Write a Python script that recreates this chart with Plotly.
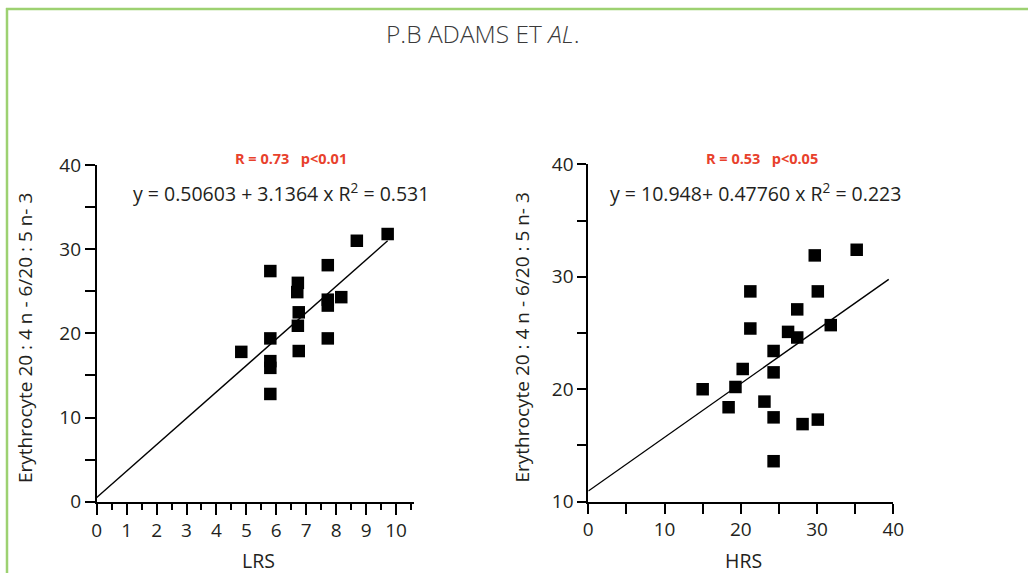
import plotly.graph_objects as go

# ---- data ----
lrs_x = [4.83, 5.8, 5.8, 5.8, 5.8, 5.8, 6.72, 6.7, 6.75, 6.72, 6.75, 7.72, 7.72, 7.72, 7.72, 8.17, 8.69, 9.72]
lrs_y = [17.8, 27.4, 19.4, 16.7, 15.9, 12.8, 26.0, 24.9, 22.5, 20.9, 17.9, 28.1, 24.0, 23.3, 19.4, 24.3, 31.0, 31.8]

hrs_x = [15.0, 18.4, 19.3, 20.25, 21.25, 21.25, 23.1, 24.3, 24.3, 24.3, 24.3, 26.2, 27.4, 27.4, 28.1, 29.7, 30.1, 30.1, 31.8, 35.2]
hrs_y = [20.0, 18.4, 20.2, 21.8, 28.7, 25.4, 18.9, 23.4, 21.5, 17.5, 13.6, 25.1, 27.1, 24.6, 16.9, 31.9, 28.7, 17.3, 25.7, 32.4]

lrs_fit = {"intercept": 0.50603, "slope": 3.1364, "x_span": [0, 9.72]}
hrs_fit = {"intercept": 10.948, "slope": 0.47760, "x_span": [0, 39.4]}

lrs_eq = "y = 0.50603 + 3.1364 x R<sup>2</sup> = 0.531"
hrs_eq = "y = 10.948+ 0.47760 x R<sup>2</sup> = 0.223"
lrs_stat = "R = 0.73   p<0.01"
hrs_stat = "R = 0.53   p<0.05"
y_title = "Erythrocyte 20 : 4 n - 6/20 : 5 n- 3"
page_title = "P.B ADAMS ET <i>AL</i>."

W, H = 1028, 573
FONT = "Open Sans"
TXT = "#231f20"
RED = "#e8412c"
GREEN = "#9dd171"


def px(x):
    return x / W


def py(y):
    return 1 - y / H


fig = go.Figure()

for xs, ys, fit, xa, ya in [(lrs_x, lrs_y, lrs_fit, "x", "y"), (hrs_x, hrs_y, hrs_fit, "x2", "y2")]:
    fx = fit["x_span"]
    fy = [fit["intercept"] + fit["slope"] * v for v in fx]
    fig.add_trace(go.Scatter(x=fx, y=fy, mode="lines", line=dict(color="black", width=1.4),
                             xaxis=xa, yaxis=ya, showlegend=False, hoverinfo="skip"))
    fig.add_trace(go.Scatter(x=xs, y=ys, mode="markers",
                             marker=dict(symbol="square", size=12.5, color="black", line=dict(width=0)),
                             xaxis=xa, yaxis=ya, showlegend=False, cliponaxis=False))

axis_common = dict(showline=True, linecolor="black", linewidth=1.8, ticks="outside", tickwidth=1.8,
                   tickcolor="black", showgrid=False, zeroline=False, automargin=False,
                   tickfont=dict(family=FONT, size=19, color=TXT))

fig.update_layout(
    width=W, height=H, autosize=False,
    margin=dict(l=0, r=0, t=0, b=0, pad=0, autoexpand=False),
    showlegend=False,
    paper_bgcolor="white", plot_bgcolor="white",
    xaxis=dict(domain=[px(96.7), px(414)], range=[0, 10.6], tick0=0, dtick=1, ticklen=11,
               minor=dict(dtick=0.5, tick0=0, ticklen=6, tickwidth=1.8, tickcolor="black", ticks="outside"),
               anchor="y", **axis_common),
    yaxis=dict(domain=[py(501.7), py(165)], range=[0, 40], tick0=0, dtick=10, ticklen=10,
               minor=dict(dtick=5, tick0=0, ticklen=10, tickwidth=1.8, tickcolor="black", ticks="outside"),
               anchor="x", **axis_common),
    xaxis2=dict(domain=[px(588.3), px(893.3)], range=[0, 40], tick0=0, dtick=10, ticklen=10,
                minor=dict(dtick=5, tick0=0, ticklen=10, tickwidth=1.8, tickcolor="black", ticks="outside"),
                anchor="y2", **axis_common),
    yaxis2=dict(domain=[py(501.7), py(164.3)], range=[10, 40], tick0=10, dtick=10, ticklen=9,
                minor=dict(dtick=5, tick0=10, ticklen=9, tickwidth=1.8, tickcolor="black", ticks="outside"),
                anchor="x2", **axis_common),
)

ann = []
ann.append(dict(text=page_title, x=px(483), y=py(34), font=dict(family=FONT, size=24.5, color="#3a3a3a", weight=300)))
ann.append(dict(text=lrs_stat, x=px(290.5), y=py(158), font=dict(family=FONT, size=14.5, color=RED, weight="bold")))
ann.append(dict(text=hrs_stat, x=px(762), y=py(158), font=dict(family=FONT, size=14.5, color=RED, weight="bold")))
ann.append(dict(text=lrs_eq, x=px(281.2), y=py(192), font=dict(family=FONT, size=19.5, color=TXT)))
ann.append(dict(text=hrs_eq, x=px(755), y=py(192), font=dict(family=FONT, size=19.5, color=TXT)))
ann.append(dict(text="LRS", x=px(258.7), y=py(560), font=dict(family=FONT, size=19.5, color=TXT)))
ann.append(dict(text="HRS", x=px(743), y=py(560), font=dict(family=FONT, size=19.5, color=TXT)))
ann.append(dict(text=y_title, x=px(25), y=py(338), textangle=-90, font=dict(family=FONT, size=19, color=TXT)))
ann.append(dict(text=y_title, x=px(521.5), y=py(338), textangle=-90, font=dict(family=FONT, size=19, color=TXT)))
for a in ann:
    a.update(xref="paper", yref="paper", showarrow=False, xanchor="center", yanchor="middle")
fig.update_layout(annotations=ann)

fig.update_layout(shapes=[
    dict(type="line", xref="paper", yref="paper", x0=px(6), x1=1, y0=py(9), y1=py(9),
         line=dict(color=GREEN, width=2.5)),
    dict(type="line", xref="paper", yref="paper", x0=px(7), x1=px(7), y0=py(8), y1=0,
         line=dict(color=GREEN, width=2.5)),
])

fig.write_html("out.html", config={"displayModeBar": False},
               post_script="document.body.style.margin='0';")
